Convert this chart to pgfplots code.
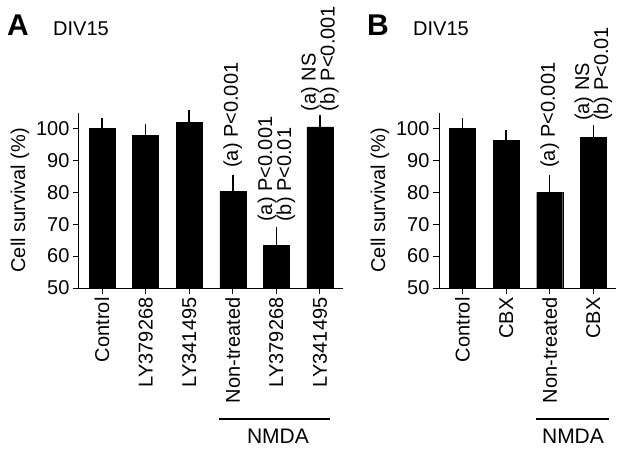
\documentclass[border=0pt]{standalone}
\usepackage{fontspec}
\setmainfont{Liberation Sans}
\usepackage{pgfplots}
\pgfplotsset{compat=1.18}
\pgfplotsset{
  panel/.style={
    scale only axis, height=175.5pt, ymin=50, ymax=105,
    axis x line*=bottom, axis y line*=left,
    ytick={50,60,70,80,90,100},
    tick align=outside, major tick length=6pt,
    xtick=data,
    ylabel={Cell survival (\%)},
    font=\fontsize{20}{20}\selectfont,
    /pgf/number format/assume math mode=true,
    clip=false,
    axis line style={line width=1pt},
    every tick/.style={line width=1pt, black},
    xticklabel style={rotate=90, anchor=east},
    ybar, bar width=26pt,
  },
  errbar/.style={fill=black, draw=black,
    error bars/.cd, y dir=plus, y explicit,
    error bar style={line width=1.5pt, black},
    error mark options={line width=1.5pt, mark size=4pt, black}},
}
\tikzset{
  pnote/.style={rotate=90, anchor=west, inner sep=0pt, align=left,
    font=\fontsize{20}{19}\selectfont},
}
\begin{document}
\begin{tikzpicture}[x=1pt,y=1pt]
\path[use as bounding box] (0pt,0pt) rectangle (624pt,-451pt);
% Panel A
\begin{axis}[panel, at={(79pt,-288pt)}, anchor=south west, width=264pt,
  xmin=-0.53, xmax=5.53,
  xticklabels={Control, LY379268, LY341495, Non-treated, LY379268, LY341495}]
\addplot[errbar] coordinates {
  (0,100) +- (0,2.1)
  (1,97.9) +- (0,2.1)
  (2,101.9) +- (0,2.5)
  (3,80.2) +- (0,4.0)
  (4,63.3) +- (0,4.6)
  (5,100.5) +- (0,2.4)
};
\node[pnote] at ([yshift=11pt]axis cs:3,84.2) {(a) P<0.001};
\node[pnote] at ([yshift=9pt]axis cs:4,67.9) {(a) P<0.001\\(b) P<0.01};
\node[pnote] at ([yshift=8pt]axis cs:5,102.9) {(a) NS\\(b) P<0.001};
\end{axis}
% Panel B
\begin{axis}[panel, at={(439pt,-288pt)}, anchor=south west, width=177pt,
  xmin=-0.54, xmax=3.52,
  xticklabels={Control, CBX, Non-treated, CBX}]
\addplot[errbar] coordinates {
  (0,100) +- (0,2.1)
  (1,96.3) +- (0,2.1)
  (2,80.0) +- (0,4.2)
  (3,97.2) +- (0,2.6)
};
\node[pnote] at ([yshift=11pt]axis cs:2,84.2) {(a) P<0.001};
\node[pnote] at ([yshift=8pt]axis cs:3,99.8) {(a) NS\\(b) P<0.01};
\end{axis}
% Panel titles
\node[anchor=base west, inner sep=0pt, font=\fontsize{30}{30}\selectfont\bfseries] at (7pt,-35pt) {A};
\node[anchor=base west, inner sep=0pt, font=\fontsize{20}{20}\selectfont] at (53pt,-35pt) {DIV15};
\node[anchor=base west, inner sep=0pt, font=\fontsize{30}{30}\selectfont\bfseries] at (367pt,-35pt) {B};
\node[anchor=base west, inner sep=0pt, font=\fontsize{20}{20}\selectfont] at (413pt,-35pt) {DIV15};
% NMDA brackets
\draw[line width=2.5pt] (219pt,-419pt) -- (330pt,-419pt);
\node[anchor=base, inner sep=0pt, font=\fontsize{21}{21}\selectfont] at (278pt,-443pt) {NMDA};
\draw[line width=2.5pt] (536pt,-419pt) -- (609pt,-419pt);
\node[anchor=base, inner sep=0pt, font=\fontsize{21}{21}\selectfont] at (573pt,-443pt) {NMDA};
\end{tikzpicture}
\end{document}
